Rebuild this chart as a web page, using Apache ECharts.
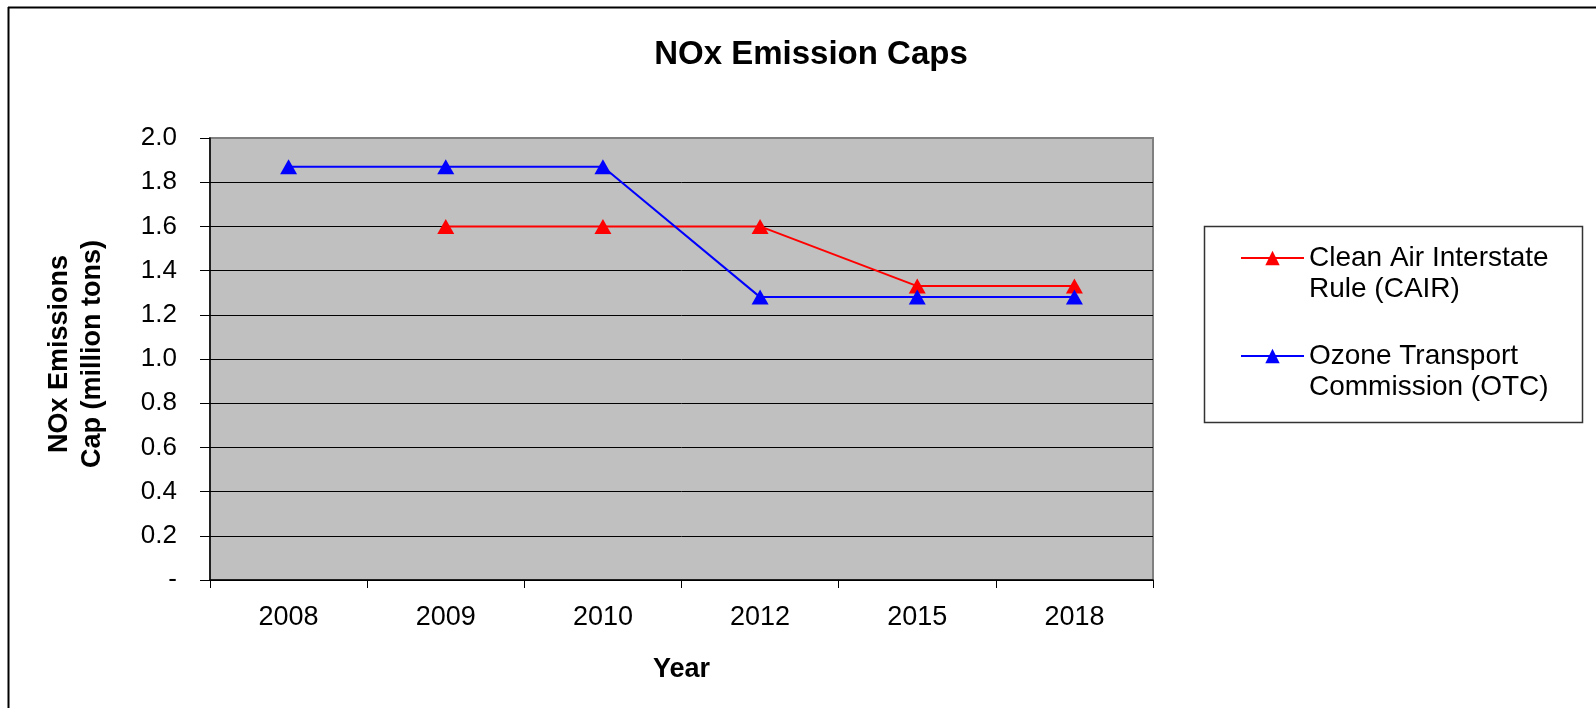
<!DOCTYPE html>
<html>
<head>
<meta charset="utf-8">
<script src="https://cdn.jsdelivr.net/npm/echarts@6/dist/echarts.min.js"></script>
<style>
html,body{margin:0;padding:0;background:#fff;}
#chart{width:1596px;height:708px;}
</style>
</head>
<body>
<div id="chart"></div>
<script>
const years = ['2008', '2009', '2010', '2012', '2015', '2018'];
const cairValues = [null, 1.6, 1.6, 1.6, 1.33, 1.33];
const otcValues = [1.87, 1.87, 1.87, 1.28, 1.28, 1.28];
const cairName = 'Clean Air Interstate\nRule (CAIR)';
const otcName = 'Ozone Transport\nCommission (OTC)';

const FONT = "'Liberation Sans', Arial, sans-serif";
const chart = echarts.init(document.getElementById('chart'), null, {renderer: 'canvas'});

const legendText = {
  fontFamily: FONT, fontSize: 28, color: '#000', lineHeight: 31
};
// leading blank line puts the first text line level with the legend icon
const legendFormatter = name => '\n' + name;

chart.setOption({
  backgroundColor: '#fff',
  animation: false,
  title: {
    text: 'NOx Emission Caps',
    left: 811, top: 38, padding: 0, textAlign: 'center',
    textStyle: {fontFamily: FONT, fontSize: 33, fontWeight: 'bold', color: '#000'}
  },
  grid: {
    left: 210, top: 138, right: 443, bottom: 128,
    show: true, backgroundColor: '#C0C0C0', borderColor: '#808080', borderWidth: 2
  },
  legend: [
    {
      data: [cairName], left: 1240, top: 211.5, padding: 0,
      itemWidth: 63, itemHeight: 18, textStyle: legendText, formatter: legendFormatter
    },
    {
      data: [otcName], left: 1240, top: 309.5, padding: 0,
      itemWidth: 63, itemHeight: 18, textStyle: legendText, formatter: legendFormatter
    }
  ],
  xAxis: {
    type: 'category', data: years, boundaryGap: true,
    name: 'Year', nameLocation: 'middle', nameGap: 76,
    nameTextStyle: {fontFamily: FONT, fontSize: 27, fontWeight: 'bold', color: '#000'},
    axisLine: {lineStyle: {color: '#000', width: 1.5}},
    axisTick: {show: true, interval: 0, length: 8, lineStyle: {color: '#000'}},
    axisLabel: {fontFamily: FONT, fontSize: 27, color: '#000', margin: 24, interval: 0},
    splitLine: {show: false}
  },
  yAxis: {
    type: 'value', min: 0, max: 2, interval: 0.2,
    name: 'NOx Emissions\nCap (million tons)', nameLocation: 'middle', nameGap: 101, nameRotate: 90,
    nameTextStyle: {fontFamily: FONT, fontSize: 27, fontWeight: 'bold', color: '#000', lineHeight: 33, padding: [0, 0, 0, 10]},
    axisLine: {show: true, lineStyle: {color: '#000', width: 1.5}},
    axisTick: {show: true, length: 10, lineStyle: {color: '#000'}},
    axisLabel: {
      fontFamily: FONT, fontSize: 26, color: '#000', margin: 33,
      formatter: v => (Math.abs(v) < 1e-9 ? '-' : v.toFixed(1))
    },
    splitLine: {show: true, showMaxLine: false, lineStyle: {color: '#000', width: 1}}
  },
  series: [
    {
      name: cairName, type: 'line', data: cairValues,
      color: '#FF0000',
      lineStyle: {color: '#FF0000', width: 2},
      itemStyle: {color: '#FF0000'},
      symbol: 'triangle', symbolSize: [17, 15], showSymbol: true,
      connectNulls: false, z: 3
    },
    {
      name: otcName, type: 'line', data: otcValues,
      color: '#0000FF',
      lineStyle: {color: '#0000FF', width: 2},
      itemStyle: {color: '#0000FF'},
      symbol: 'triangle', symbolSize: [17, 15], showSymbol: true, z: 4
    }
  ],
  graphic: [
    {type: 'line', shape: {x1: 8, y1: 7.5, x2: 1596, y2: 7.5}, style: {stroke: '#000', lineWidth: 2}, silent: true},
    {type: 'line', shape: {x1: 8.5, y1: 7, x2: 8.5, y2: 708}, style: {stroke: '#000', lineWidth: 2}, silent: true},
    {type: 'rect', shape: {x: 1204.5, y: 226.5, width: 378, height: 196}, style: {fill: 'none', stroke: '#333', lineWidth: 1.5}, silent: true, z: -1}
  ]
});
</script>
</body>
</html>
